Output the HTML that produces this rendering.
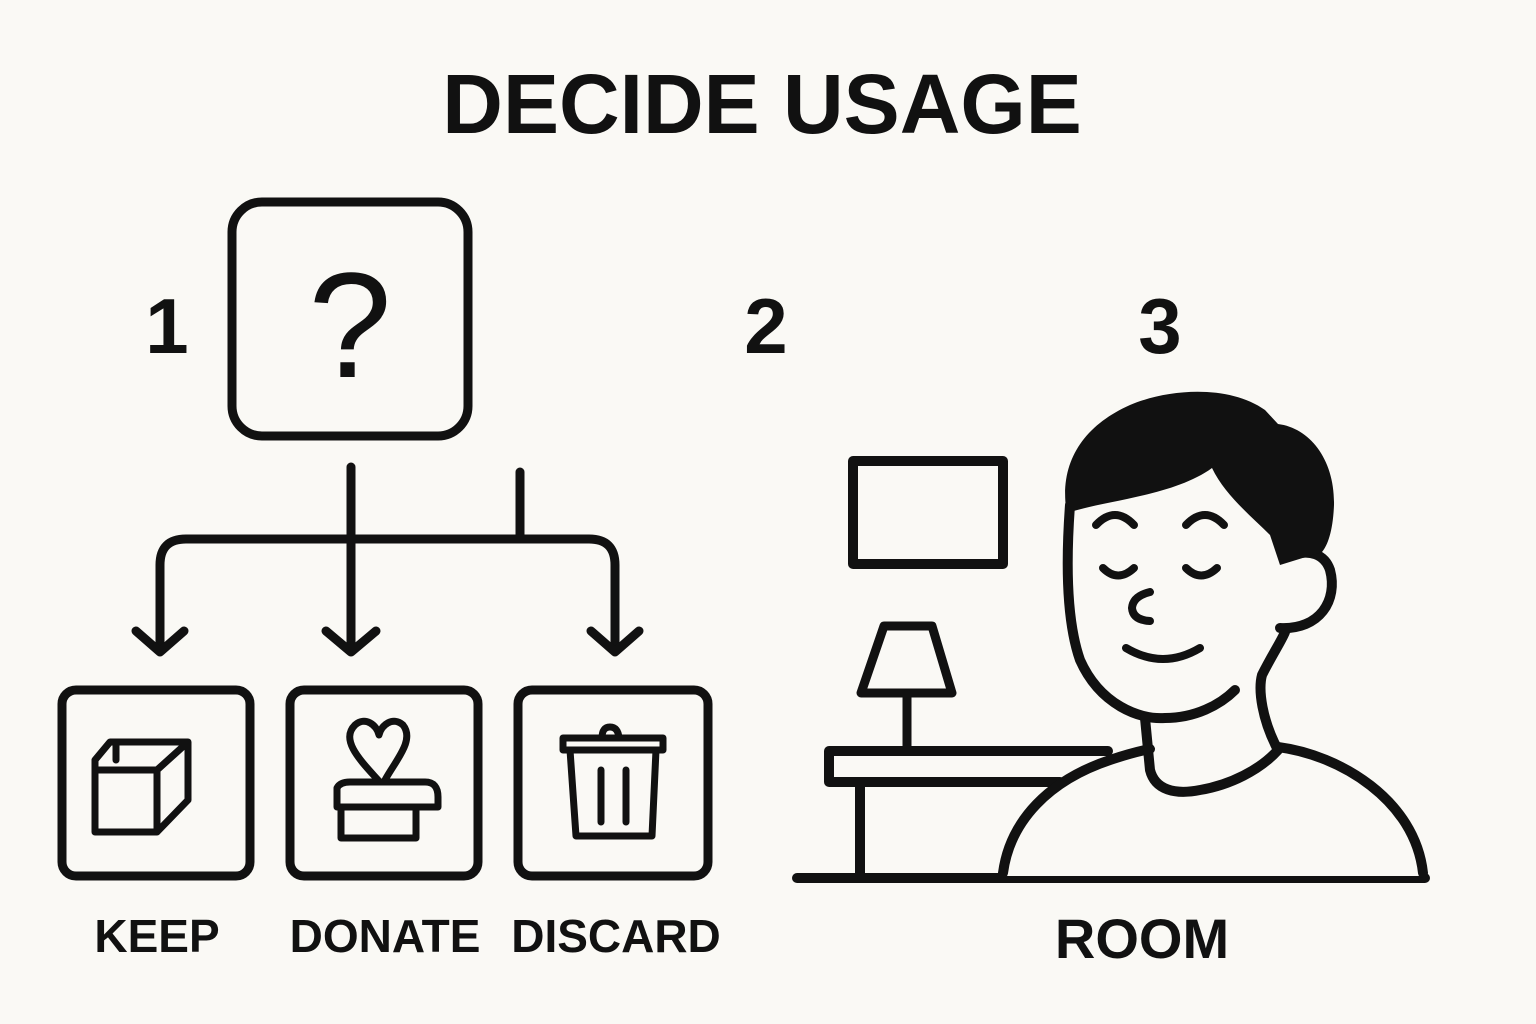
<!DOCTYPE html>
<html><head><style>
html,body{margin:0;padding:0;background:#faf9f5;}
svg{display:block;}
text{font-family:"Liberation Sans",sans-serif;font-weight:bold;fill:#111;}
</style></head><body>
<svg width="1536" height="1024" viewBox="0 0 1536 1024" xmlns="http://www.w3.org/2000/svg">
<rect width="1536" height="1024" fill="#faf9f5"/>
<text x="762" y="133" font-size="84" text-anchor="middle">DECIDE USAGE</text>
<g fill="none" stroke="#111" stroke-width="9" stroke-linecap="round" stroke-linejoin="round">
<rect x="232" y="202" width="236" height="234" rx="30"/>
<path d="M351 467 V650 M326 631 L351 652 L376 631"/>
<path d="M520 472 V537"/>
<path d="M160 650 V565 Q160 539 186 539 H589 Q615 539 615 565 V650"/>
<path d="M136 631 L160 652 L184 631 M591 631 L615 652 L639 631"/>
<rect x="62" y="690" width="188" height="186" rx="14"/>
<rect x="290" y="690" width="188" height="186" rx="14"/>
<rect x="518" y="690" width="190" height="186" rx="14"/>
<g stroke-width="7">
<path d="M95 770 V832 H157 L188 800 V742 H110 L95 760 Z M95 770 H157 V832 M157 770 L188 742 M116 742 V760"/>
<path d="M378 780 C360 760 340 740 355 725 C365 716 377 725 379 735 C381 725 393 716 403 725 C415 740 396 760 385 780"/>
<path d="M337 807 V788 Q340 782 350 782 H425 Q438 782 438 797 V807 Z M341 807 V838 H416 V807"/>
<path d="M563 738 H663 V750 H563 Z M602 738 Q602 727 610 727 Q618 727 619 738 M570 750 L576 836 H652 L656 750 M601 770 V822 M626 770 V822"/>
</g>
<rect x="853" y="461" width="150" height="103" stroke-width="10"/>
<path d="M884 626 H932 L952 693 H861 Z" stroke-width="9"/>
<path d="M907 694 V748"/>
<path d="M829 751 H1108 M829 751 V782 H1060 M860 782 V876 M797 878 H1425" stroke-width="10"/>
</g>
<!-- person -->
<path d="M1003 876 C1010 820 1050 780 1110 760 C1125 755 1140 751 1150 749 L1278 747 C1340 755 1415 800 1423 876 Z" fill="#faf9f5"/>
<g stroke="#111" stroke-width="10" stroke-linecap="round" stroke-linejoin="round" fill="none">
<path d="M1003 873 C1010 820 1050 780 1110 760 C1125 755 1140 751 1150 749 M1278 747 C1340 755 1415 800 1423 873"/>
<path d="M1070 505 C1066 560 1066 620 1080 660 C1100 705 1140 720 1165 718 C1195 718 1220 705 1235 690"/>
<path d="M1145 718 L1150 770 C1155 790 1175 795 1200 790 C1230 785 1260 770 1278 750 C1262 720 1258 690 1262 675 C1272 655 1282 640 1285 632"/>
<path d="M1280 628 C1320 630 1338 600 1330 570 C1325 555 1310 548 1290 556" fill="#faf9f5"/>
</g>
<path d="M1066 508 C1060 460 1085 425 1130 405 C1170 388 1230 385 1265 410 L1278 424 C1310 428 1335 460 1334 505 C1333 530 1328 545 1322 552 L1280 565 L1270 535 C1250 515 1225 495 1212 468 C1175 495 1110 500 1070 512 Z" fill="#111"/>
<g fill="none" stroke="#111" stroke-width="8" stroke-linecap="round">
<path d="M1096 525 Q1115 505 1134 525 M1186 525 Q1205 505 1224 525"/>
<path d="M1103 568 Q1118 583 1134 568 M1186 568 Q1201 583 1217 568"/>
<path d="M1150 592 Q1133 596 1132 608 Q1133 620 1150 621"/>
<path d="M1126 648 Q1163 670 1200 648"/>
</g>
<text x="167" y="353" font-size="78" text-anchor="middle">1</text>
<text x="766" y="353" font-size="78" text-anchor="middle">2</text>
<text x="1160" y="353" font-size="78" text-anchor="middle">3</text>
<text x="350" y="377" font-size="150" text-anchor="middle" style="font-weight:normal">?</text>
<text x="157" y="952" font-size="46" text-anchor="middle">KEEP</text>
<text x="385" y="952" font-size="46" text-anchor="middle">DONATE</text>
<text x="616" y="952" font-size="46" text-anchor="middle">DISCARD</text>
<text x="1142" y="958" font-size="56" text-anchor="middle">ROOM</text>
</svg>
</body></html>
